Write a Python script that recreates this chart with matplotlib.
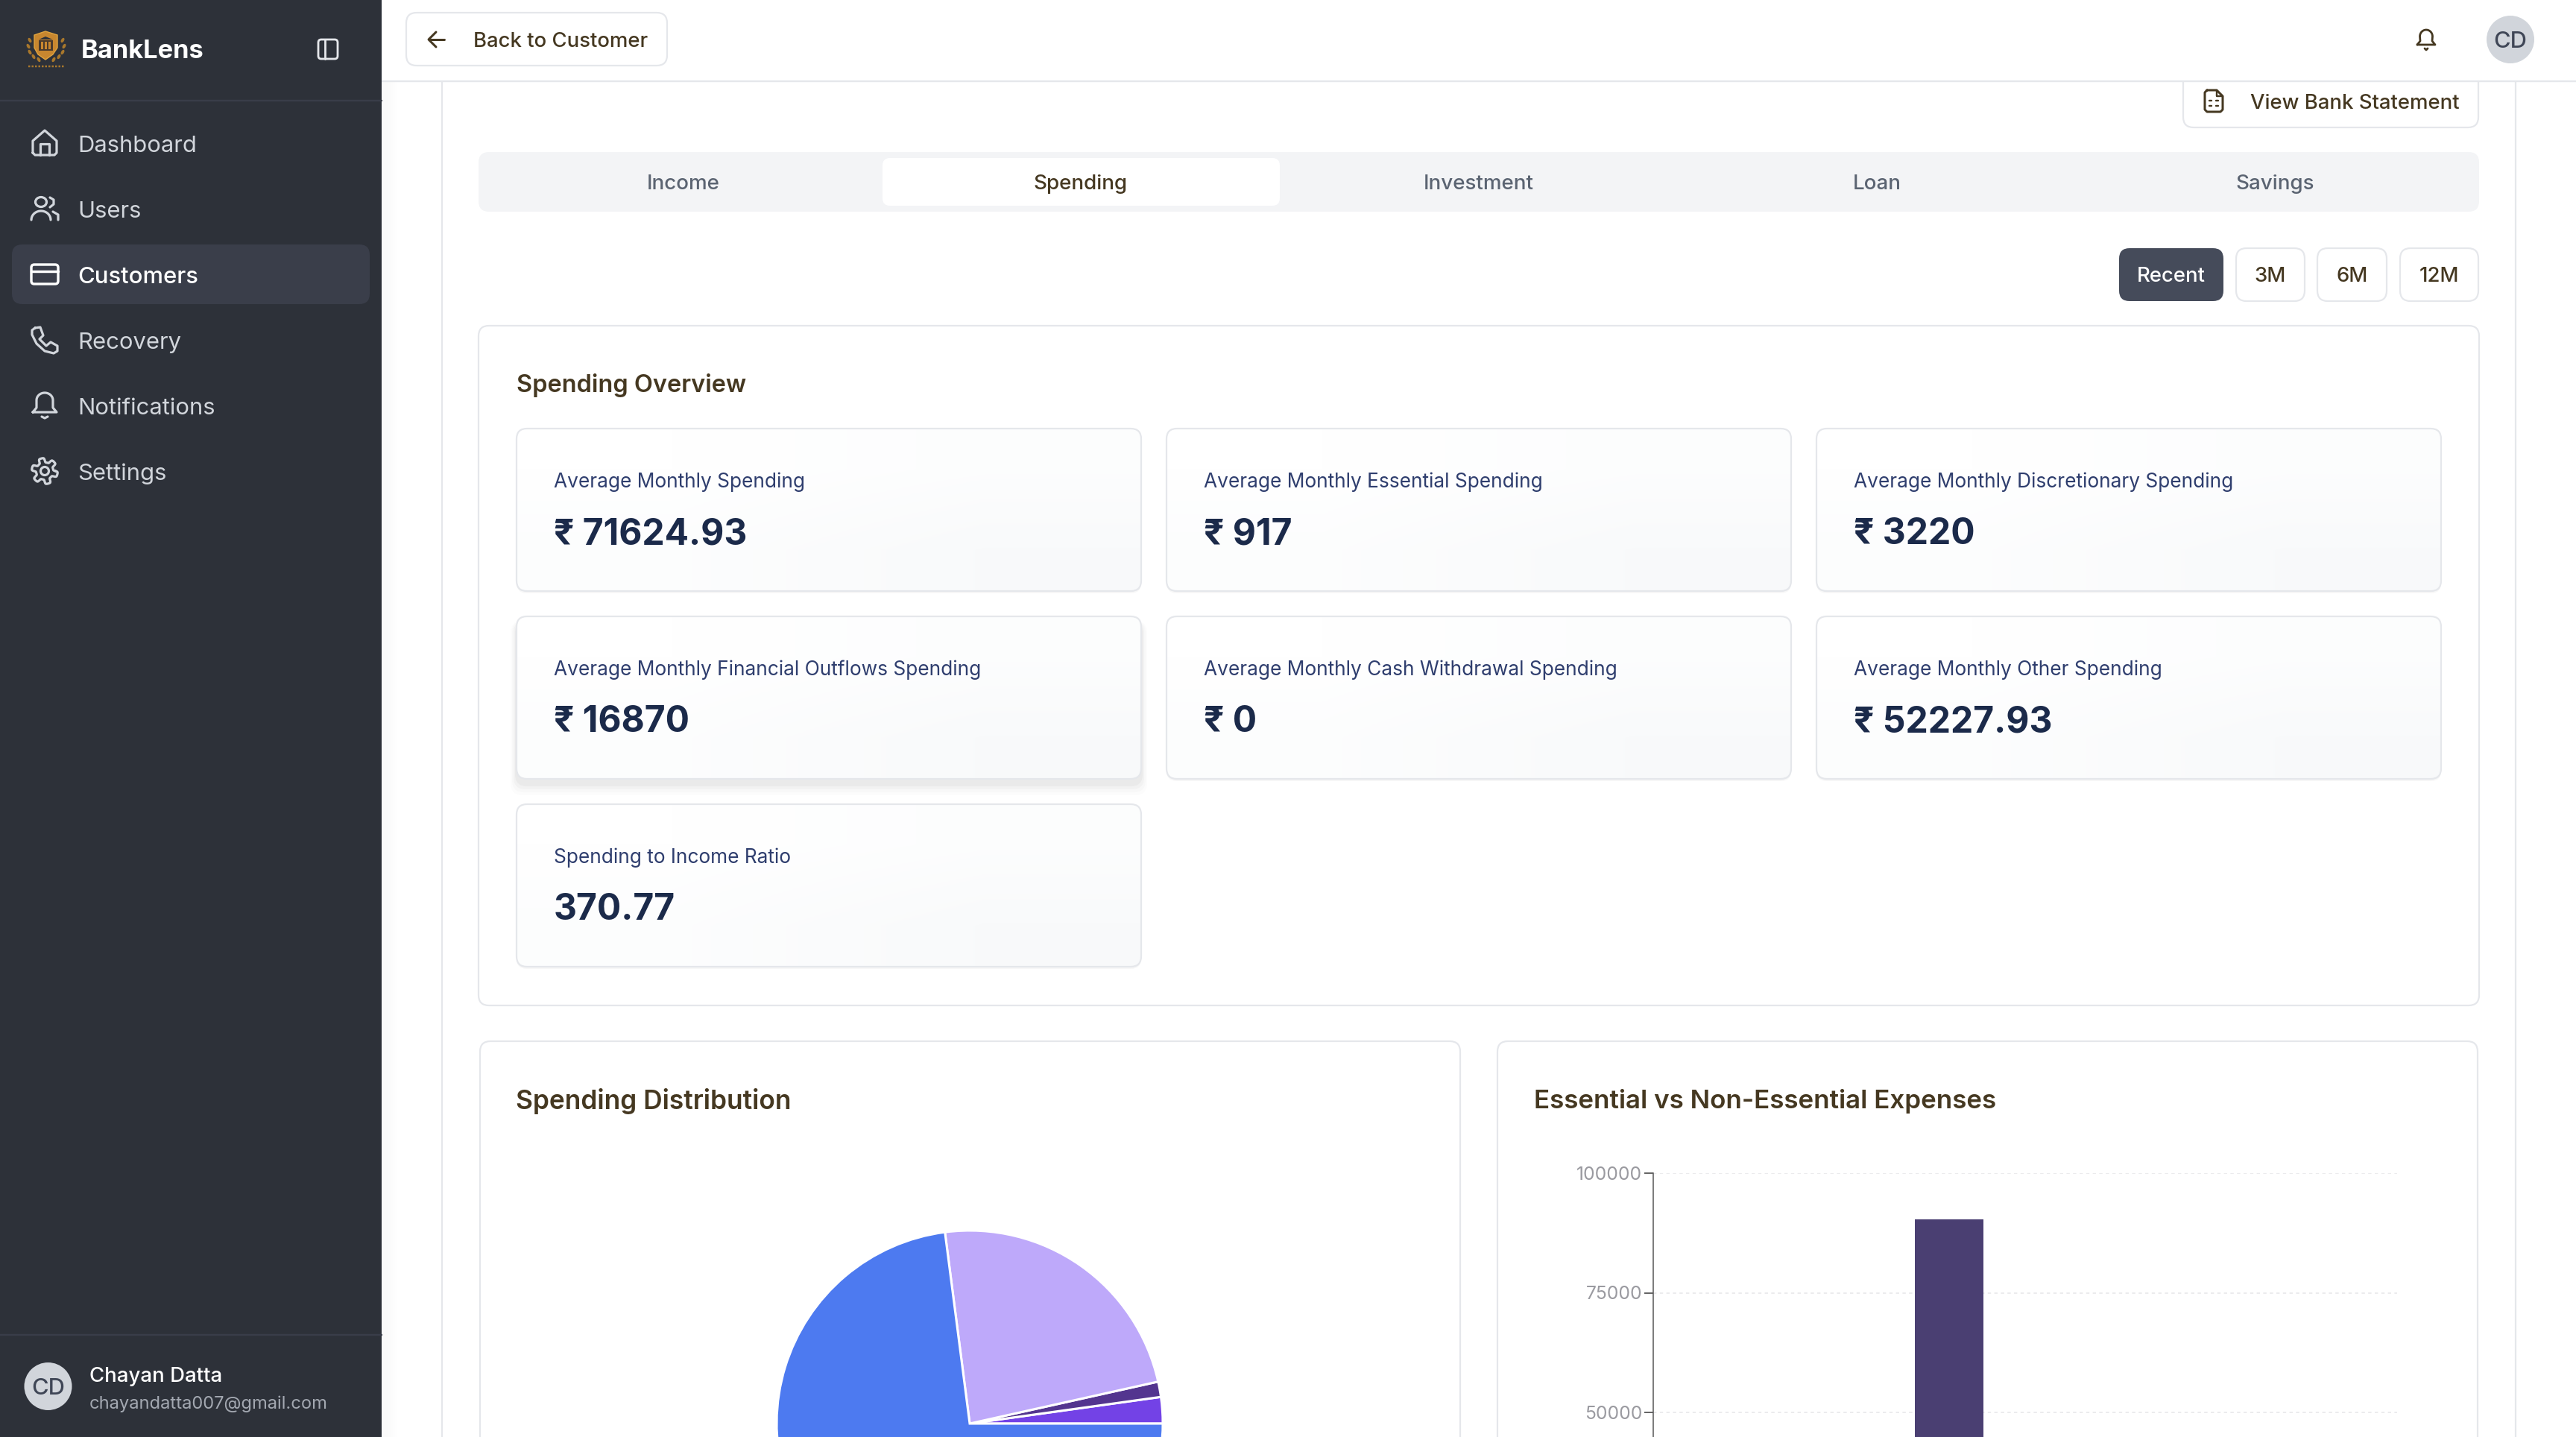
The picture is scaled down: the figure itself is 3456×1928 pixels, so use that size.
import numpy as np
import matplotlib
matplotlib.use("Agg")
import matplotlib.pyplot as plt
from matplotlib.patches import FancyBboxPatch, Rectangle, Circle, Polygon, Ellipse

W, H = 3456, 1928
plt.rcParams["font.family"] = ["Inter", "Noto Sans", "DejaVu Sans"]

# data
nav_items = ["Dashboard", "Users", "Customers", "Recovery", "Notifications", "Settings"]
tab_names = ["Income", "Spending", "Investment", "Loan", "Savings"]
range_names = ["Recent", "3M", "6M", "12M"]
card_titles = [
    "Average Monthly Spending", "Average Monthly Essential Spending",
    "Average Monthly Discretionary Spending", "Average Monthly Financial Outflows Spending",
    "Average Monthly Cash Withdrawal Spending", "Average Monthly Other Spending",
    "Spending to Income Ratio",
]
card_values = ["₹ 71624.93", "₹ 917", "₹ 3220", "₹ 16870", "₹ 0", "₹ 52227.93", "370.77"]

pie_values = [1580, 917, 16870, 52228]
pie_colors = ["#7342E6", "#53358F", "#BEA9FA", "#4D7AF0"]

bar_categories = ["Non-Essential"]
bar_values = [90340]
bar_ticks = [50000, 75000, 100000]

BROWN = "#453821"
BORDER = "#E5E7EB"

fig = plt.figure(figsize=(W / 100, H / 100), dpi=100, facecolor="white")
ax = fig.add_axes([0, 0, 1, 1])
ax.set_xlim(0, W)
ax.set_ylim(H, 0)
ax.axis("off")


def txt(x, y, s, px, color, weight="normal", ha="left", z=5):
    ax.text(x, y, s, fontsize=px * 0.72, color=color, fontweight=weight, ha=ha,
            va="center_baseline", zorder=z)


def box(x0, y0, x1, y1, r, fc="white", ec="none", lw=2.2, z=1):
    p = FancyBboxPatch((x0, y0), x1 - x0, y1 - y0, boxstyle=f"round,pad=0,rounding_size={r}",
                       fc=fc, ec=ec, lw=lw * 0.72, zorder=z)
    ax.add_patch(p)
    return p


def line(xs, ys, color, lw=3.2, z=5):
    ax.plot(xs, ys, color=color, lw=lw * 0.72, solid_capstyle="round", solid_joinstyle="round", zorder=z)


# left soft edge of the main area
ax.imshow(np.array([[0.98, 1.0]]), extent=(512, 545, H, 0), cmap="gray", vmin=0, vmax=1,
          aspect="auto", interpolation="bilinear", zorder=0)
ax.set_xlim(0, W)
ax.set_ylim(H, 0)

# outer panel borders
line([593, 593], [100, H], BORDER, 2.2, 1)
line([3375, 3375], [100, H], BORDER, 2.2, 1)

# view statement button, runs under the top bar
box(2929, 60, 3325, 171, 14, ec=BORDER, z=2)
line([2961, 2974, 2982, 2982, 2979, 2961, 2958, 2958, 2961], [121, 121, 129, 147, 150, 150, 147, 124, 121], BROWN, 3)
line([2974, 2974, 2982], [121, 129, 129], BROWN, 2.4)
for yy in (135, 142):
    line([2964, 2967], [yy, yy], BROWN, 2.4)
    line([2973, 2976], [yy, yy], BROWN, 2.4)
txt(3019, 136, "View Bank Statement", 27.5, BROWN, "medium")

# tabs
box(642, 204, 3326, 284, 14, fc="#F3F4F6")
box(1184, 212, 1717, 276, 10, fc="white")
for name, cx in zip(tab_names, [917, 1450, 1984, 2518, 3052]):
    active = name == "Spending"
    txt(cx, 244, name, 27.8, BROWN if active else "#5B6472", "medium", "center")

# range buttons
for name, (x0, x1) in zip(range_names, [(2843, 2983), (3000, 3092), (3109, 3202), (3220, 3325)]):
    active = name == "Recent"
    box(x0, 333, x1, 404, 14, fc="#454B5A" if active else "white", ec="none" if active else BORDER, z=2)
    txt((x0 + x1) / 2, 368, name, 27.5, "white" if active else BROWN, "medium", "center")

# overview panel
box(642, 437, 3326, 1349, 14, ec=BORDER)
txt(693, 513.5, "Spending Overview", 32.5, BROWN, "semibold")

grad = np.array([[[1.0, 1.0, 1.0], [0.99, 0.993, 0.995]],
                 [[0.99, 0.993, 0.995], [0.976, 0.98, 0.984]]])
for i, (title, value) in enumerate(zip(card_titles, card_values)):
    x0 = 693 + (i % 3) * 872
    y0 = 575 + (i // 3) * 252
    x1, y1 = x0 + 838, y0 + 218
    if i == 3:
        for grow, alpha in [(16, 0.01), (12, 0.015), (8, 0.025), (4, 0.03)]:
            sh = box(x0 - grow / 2, y0 + 6, x1 + grow / 2, y1 + 6 + grow, 16, fc="black", z=2)
            sh.set_alpha(alpha)
    else:
        sh = box(x0, y0 + 3, x1, y1 + 3, 14, fc="black", z=2)
        sh.set_alpha(0.03)
    p = box(x0, y0, x1, y1, 14, fc="white", z=3)
    im = ax.imshow(grad, extent=(x0, x1, y1, y0), aspect="auto", interpolation="bilinear", zorder=3)
    im.set_clip_path(p)
    box(x0, y0, x1, y1, 14, fc="none", ec=BORDER, z=4)
    txt(x0 + 50, y0 + 68.5, title, 26.3, "#2F3E6E")
    txt(x0 + 50, y0 + 137.5, value, 48, "#1B2A4A", "bold")
ax.set_xlim(0, W)
ax.set_ylim(H, 0)

# bottom cards
box(644, 1397, 1959, H + 40, 14, ec=BORDER)
box(2009, 1397, 3324, H + 40, 14, ec=BORDER)
txt(692, 1474, "Spending Distribution", 35.3, BROWN, "semibold")
txt(2058, 1474, "Essential vs Non-Essential Expenses", 35, BROWN, "semibold")

# top bar
ax.add_patch(Rectangle((512, 0), W - 512, 108, fc="white", ec="none", zorder=6))
line([512, W], [109, 109], BORDER, 2.4, 6)
box(545, 17, 895, 88, 14, ec=BORDER, z=7)
line([576, 596], [53, 53], BROWN, 3, 8)
line([585, 575, 585], [43, 53, 63], BROWN, 3, 8)
txt(635, 53, "Back to Customer", 27.5, BROWN, "medium", z=8)
ax.add_patch(Circle((3368, 53), 32, fc="#D1D5DB", ec="none", zorder=7))
txt(3368, 53, "CD", 30.8, "#3F4656", "medium", "center", z=8)
t = np.linspace(np.pi, 0, 30)
line(np.r_[3243, 3247, 3255 + 8.5 * np.cos(t), 3263, 3267, 3243],
     np.r_[60, 55, 49 - 9 * np.sin(t), 55, 60, 60], BROWN, 2.8, 8)
line([3253, 3255, 3257], [65, 67, 65], BROWN, 2.8, 8)

# sidebar
ax.add_patch(Rectangle((0, 0), 512, H, fc="#2D3139", ec="none", zorder=9))
Z = 10
line([0, 512], [135, 135], "#393D49", 2.4, Z)
line([0, 512], [1791, 1791], "#393D49", 2.4, Z)
ax.add_patch(Polygon([(46, 47), (61, 42), (77, 47), (77, 64), (71, 73), (61, 80), (51, 73), (46, 64)],
                     fc="#C8872F", ec="#E0A43F", lw=1, zorder=Z))
ax.add_patch(Polygon([(52, 53), (61, 49), (71, 53)], fc="#2D3139", zorder=Z + 1))
ax.add_patch(Rectangle((52, 54), 19, 14, fc="#4A3A2C", zorder=Z + 1))
for bx in (55, 60, 65):
    ax.add_patch(Rectangle((bx, 56), 2.5, 10, fc="#C8872F", zorder=Z + 2))
for side in (-1, 1):
    for lx, ly in [(22, 54), (24, 62), (22, 70), (17, 76), (10, 80)]:
        ax.add_patch(Ellipse((62 + side * lx, ly), 4, 7, angle=side * 30, fc="#A8772C", zorder=Z))
line([38, 86], [89, 89], "#A8772C", 2.5, Z)
ax.lines[-1].set_linestyle((0, (1, 0.8)))
txt(109, 66, "BankLens", 34.5, "white", "bold", z=Z)
box(427, 53, 453, 79, 4, fc="none", ec="#E5E7EB", lw=2.8, z=Z)
line([436, 436], [53, 79], "#E5E7EB", 2.8, Z)

box(16, 328, 496, 408, 14, fc="#3A3E4A", z=Z)
for name, cy in zip(nav_items, [193, 281, 369, 457, 545, 633]):
    active = name == "Customers"
    txt(104, cy, name, 31, "white" if active else "#D1D5DB", "medium" if active else "normal", z=Z + 1)


def icon_line(xs, ys, color="#D1D5DB", lw=3.2):
    line(xs, ys, color, lw, Z + 1)


# home
icon_line([44, 44, 60, 76, 76, 73, 47, 44], [205, 189, 175, 189, 205, 208, 208, 205])
icon_line([54, 54, 66, 66], [208, 193, 193, 208])
# users
ax.add_patch(Ellipse((55, 271), 15, 13, fc="none", ec="#D1D5DB", lw=2.3, zorder=Z + 1))
a = np.linspace(np.pi, 0, 20)
icon_line(55 + 13 * np.cos(a), 295 - 12 * np.sin(a))
icon_line([67, 72, 72, 67], [265, 268, 274, 278])
icon_line([71, 78, 78], [284, 288, 295])
# card
box(42, 355, 78, 381, 4, fc="none", ec="white", lw=3.4, z=Z + 1)
icon_line([42, 78], [364, 364], "white", 3.4)
# phone
icon_line([47, 54, 58, 53, 62, 68, 77, 77, 72, 60, 49, 43, 43, 47],
          [440, 439, 450, 455, 464, 459, 464, 471, 474, 471, 461, 449, 443, 440])
# bell
b = np.linspace(np.pi, 0, 30)
icon_line(np.r_[44, 49, 60 + 11 * np.cos(b), 71, 76, 44], np.r_[553, 547, 537 - 10 * np.sin(b), 547, 553, 553])
icon_line([56, 60, 64], [559, 561, 559])
# gear
g = np.linspace(0, 2 * np.pi, 180)
rg = 14.5 + 3 * np.tanh(3 * np.sin(6 * g))
icon_line(60 + rg * np.cos(g), 632 + rg * np.sin(g))
ax.add_patch(Circle((60, 632), 5.5, fc="none", ec="#D1D5DB", lw=2.3, zorder=Z + 1))

# footer
ax.add_patch(Circle((64.5, 1860), 32, fc="#D1D5DB", ec="none", zorder=Z))
txt(64.5, 1860, "CD", 30.8, "#3F4656", "medium", "center", z=Z + 1)
txt(120, 1844, "Chayan Datta", 27.6, "white", "medium", z=Z + 1)
txt(120, 1881, "chayandatta007@gmail.com", 23.7, "#A3A8B1", z=Z + 1)

# pie, clipped by the bottom of the window
R = 259
cx, cy = 1301, 1910
pie_ax = fig.add_axes([(cx - R) / W, 1 - (cy + R) / H, 2 * R / W, 2 * R / H])
pie_ax.pie(pie_values, colors=pie_colors, startangle=0, counterclock=True, radius=1,
           wedgeprops={"edgecolor": "white", "linewidth": 2.2, "clip_on": False})
pie_ax.set_xlim(-1, 1)
pie_ax.set_ylim(-1, 1)
pie_ax.set_aspect("auto")
pie_ax.patch.set_visible(False)

# bars
left, right, top, zero = 2218, 3216, 1574, 2216
bar_ax = fig.add_axes([left / W, 1 - zero / H, (right - left) / W, (zero - top) / H])
bar_ax.patch.set_visible(False)
bar_ax.bar(bar_categories, bar_values, width=0.0922, color="#4A3F72", zorder=3)
bar_ax.set_xlim(-0.398, 0.602)
bar_ax.set_ylim(0, 100000)
bar_ax.set_yticks(bar_ticks)
bar_ax.set_xticks([])
bar_ax.grid(axis="y", color="#EBEBED", lw=2 * 0.72, linestyle=(0, (2.2, 2.2)), zorder=1)
bar_ax.tick_params(axis="y", length=12 * 0.72, width=2 * 0.72, color="#666666", labelcolor="#9A9AA0",
                   labelsize=24.7 * 0.72, pad=2)
for s in ("top", "right", "bottom"):
    bar_ax.spines[s].set_visible(False)
bar_ax.spines["left"].set_color("#5F5F5F")
bar_ax.spines["left"].set_linewidth(1.6 * 0.72)

fig.savefig("out.png", dpi=100, facecolor="white")
